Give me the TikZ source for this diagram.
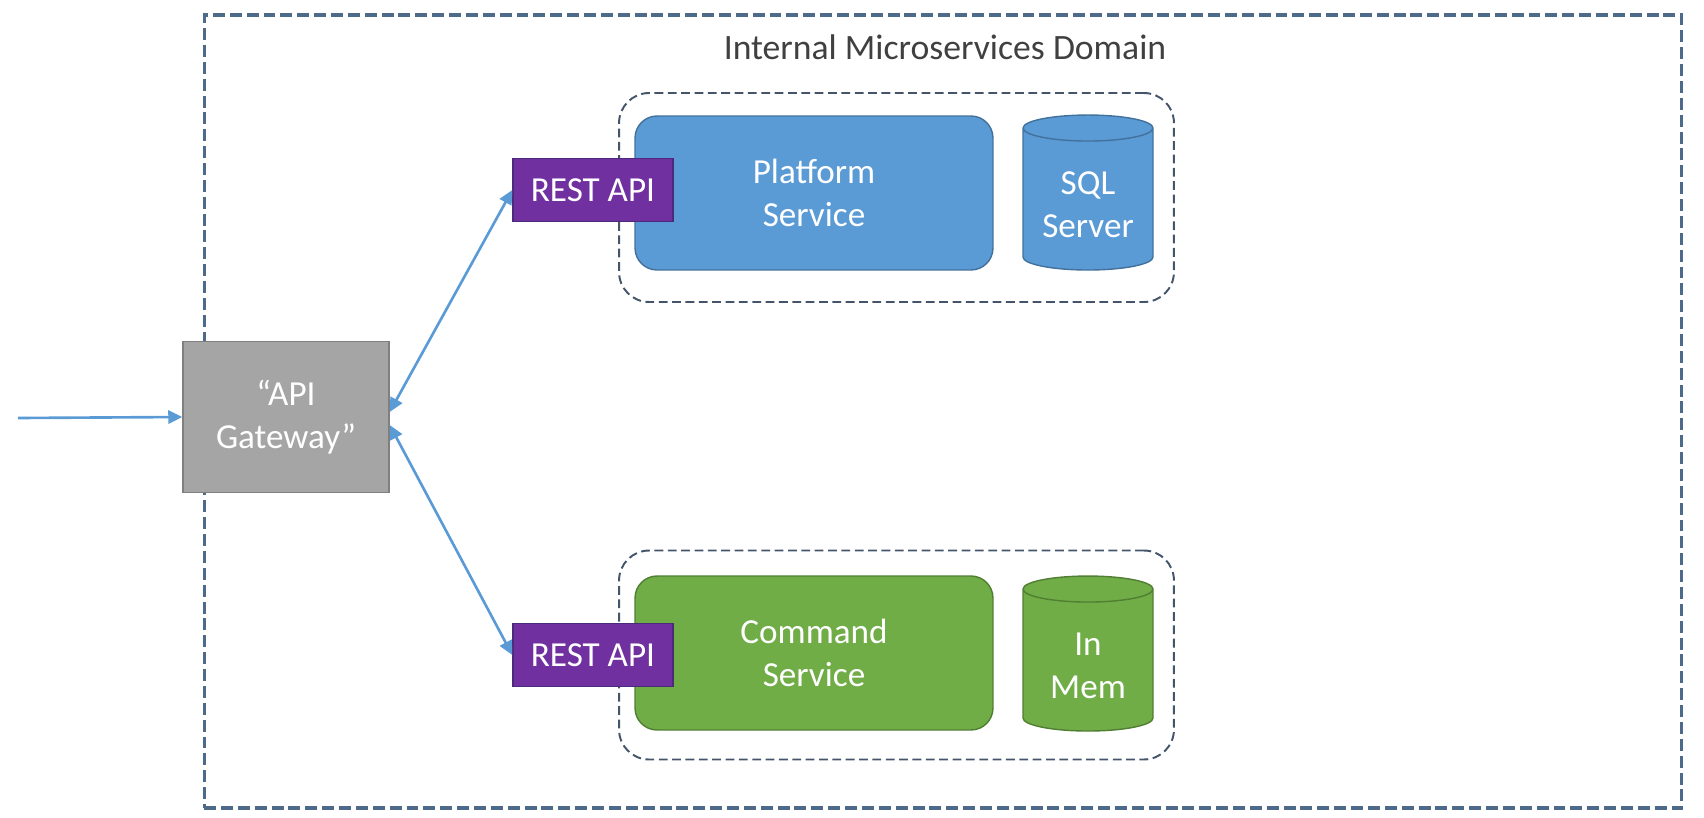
\documentclass[tikz,border=0pt]{standalone}
\usepackage{fontspec}
\setmainfont{Carlito}
\usepackage{xcolor}
\usetikzlibrary{shapes.geometric, arrows.meta, positioning}

\definecolor{domainline}{HTML}{4E6A8B}
\definecolor{groupline}{HTML}{44546A}
\definecolor{gwfill}{HTML}{A5A5A5}
\definecolor{gwline}{HTML}{7F7F7F}
\definecolor{restfill}{HTML}{7030A0}
\definecolor{restline}{HTML}{4B2A7B}
\definecolor{bluefill}{HTML}{5B9BD5}
\definecolor{blueline}{HTML}{41719C}
\definecolor{greenfill}{HTML}{70AD47}
\definecolor{greenline}{HTML}{507E32}
\definecolor{arrowblue}{HTML}{5B9BD5}
\definecolor{titlegray}{HTML}{404040}

\begin{document}
\begin{tikzpicture}[x=0.02cm, y=-0.02cm,
    lbl/.style={font=\fontsize{20}{24.5}\selectfont, text=white, align=center, inner sep=0pt},
    group/.style={draw=groupline, line width=1.1pt, dash pattern=on 5pt off 2.6pt, rounded corners=0.6cm,
      minimum width=11.1cm, minimum height=4.18cm},
    service/.style={lbl, draw, line width=0.8pt, rounded corners=0.44cm, minimum width=7.16cm, minimum height=3.08cm},
    store/.style={draw, line width=0.8pt, cylinder, shape border rotate=90, shape aspect=0.4, inner sep=0.65cm,
      minimum width=2.6cm, minimum height=3.1cm},
    restapi/.style={lbl, fill=restfill, draw=restline, line width=0.8pt, minimum width=3.2cm, minimum height=1.26cm},
    link/.style={draw=arrowblue, line width=1.5pt, >={Triangle[length=8pt, width=7.5pt]}}]
  \useasboundingbox (0,0) rectangle (1704,818);

  % domain frame
  \node[draw=domainline, line width=1.8pt, dash pattern=on 6.8pt off 2.8pt,
    minimum width=29.56cm, minimum height=15.86cm] at (943,411.5) (domain) {};
  \node[font=\fontsize{20.3}{24}\selectfont, text=titlegray] at (945,47) (title) {Internal Microservices Domain};

  % gateway
  \node[lbl, fill=gwfill, draw=gwline, line width=0.8pt, minimum width=4.12cm, minimum height=3.02cm]
    at (286,417) (gw) {“API\\Gateway”};
  \coordinate (client) at (18,418);

  % platform service
  \node[group] at (896.5,197.5) (pgroup) {};
  \node[service, fill=bluefill, draw=blueline] at (814,193) (platform) {Platform\\Service};
  \node[store, fill=bluefill, draw=blueline, label={[lbl]center:SQL\\Server}]
    at (1088,205) (sql) {};
  \node[restapi] at (593,190) (prest) {REST API};

  % command service
  \node[group] at (896.5,655) (cgroup) {};
  \node[service, fill=greenfill, draw=greenline] at (814,653) (command) {Command\\Service};
  \node[store, fill=greenfill, draw=greenline, label={[lbl]center:In\\Mem}]
    at (1088,666) (inmem) {};
  \node[restapi] at (593,655) (crest) {REST API};

  \draw[link, ->] (client) -- (gw.west);
  \draw[link, <->] ([yshift=0.1cm]gw.east) -- (prest.west);
  \draw[link, <->] ([yshift=-0.16cm]gw.east) -- (crest.west);
\end{tikzpicture}
\end{document}
